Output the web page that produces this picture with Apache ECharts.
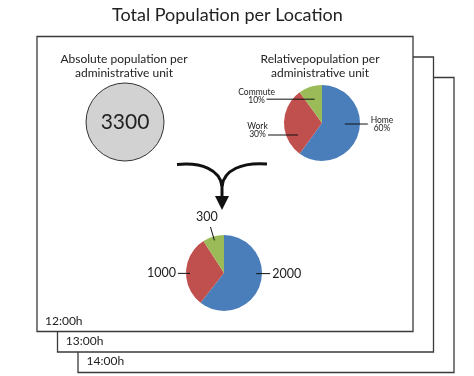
<!DOCTYPE html>
<html>
<head>
<meta charset="utf-8">
<title>Total Population per Location</title>
<script src="https://cdn.jsdelivr.net/npm/echarts@6/dist/echarts.min.js"></script>
<style>
  html, body { margin: 0; padding: 0; background: #fff; }
  #chart { width: 474px; height: 376px; }
</style>
</head>
<body>
<div id="chart"></div>
<script>
// data
const categories = ['Home', 'Work', 'Commute'];
const shareValues = [60, 30, 10];          // percent
const absoluteValues = [2000, 1000, 300];  // people
const totalPopulation = [3300];
const timeLabels = ['12:00h', '13:00h', '14:00h'];

const sliceColors = ['#4a7ebb', '#c0504d', '#9bbb59'];
const font = 'Lato, "Open Sans", sans-serif';

// 标注线长度 [length, length2] 和标签微调 [dx, dy, 线的dy]
const shareLines = [[0, 23], [0, 30], [0, 48]];
const shareTweak = [[9.2, -6.4, -6.4], [-5.5, 7.5, 12], [-5, -3.7, -1]];
const absLines = [[0, 14], [0, 12], [14, 0]];
const absTweak = [[11.5, -10.5, -10.5], [-11.5, 2, 2], [1.3, -10.3, 0]];

const chart = echarts.init(document.getElementById('chart'));

// 三个时间框，从后往前画
const boxes = [];
const times = [];
for (let i = timeLabels.length - 1; i >= 0; i--) {
  boxes.push({
    type: 'rect',
    shape: { x: 37 + i * 20.5, y: 36.5 + i * 20.5, width: 376, height: 295 },
    style: { fill: '#fff', stroke: '#3a3a3a', lineWidth: 1.3 }
  });
}
timeLabels.forEach((t, i) => {
  times.push({
    type: 'text',
    x: 45 + i * 20.8,
    y: 321 + i * 20.3,
    style: { text: t, font: '12px ' + font, fill: '#222', verticalAlign: 'middle' }
  });
});

function pieData (values) {
  return values.map((v, i) => ({
    name: categories[i],
    value: v,
    itemStyle: { color: sliceColors[i] }
  }));
}

// 透明内圈，只用来画标注线
function lineData (values, lines) {
  return values.map((v, i) => ({
    name: categories[i],
    value: v,
    labelLine: { length: lines[i][0], length2: lines[i][1] }
  }));
}

function tweakLayout (tweaks) {
  return p => {
    const t = tweaks[p.dataIndex];
    const out = { dx: t[0], dy: t[1], align: 'center' };
    if (p.labelLinePoints) {
      out.labelLinePoints = p.labelLinePoints.map(pt => [pt[0], pt[1] + t[2]]);
    }
    return out;
  };
}

const option = {
  animation: false,
  graphic: [
    ...boxes,
    ...times,
    {
      type: 'text',
      x: 112,
      y: 15,
      style: {
        text: 'Total Population per Location',
        font: '18px ' + font,
        fill: '#222',
        verticalAlign: 'middle'
      }
    },
    {
      type: 'text',
      x: 124,
      y: 66,
      style: {
        text: 'Absolute population per\nadministrative unit',
        font: '12px ' + font,
        lineHeight: 14,
        fill: '#222',
        align: 'center',
        verticalAlign: 'middle'
      }
    },
    {
      type: 'text',
      x: 320,
      y: 66,
      style: {
        text: 'Relativepopulation per\nadministrative unit',
        font: '12px ' + font,
        lineHeight: 14,
        fill: '#222',
        align: 'center',
        verticalAlign: 'middle'
      }
    },
    // 合并箭头
    {
      type: 'bezierCurve',
      shape: { x1: 177, y1: 164.5, cpx1: 202, cpy1: 162, cpx2: 220, cpy2: 170, x2: 222, y2: 186 },
      style: { stroke: '#111', lineWidth: 3, fill: null }
    },
    {
      type: 'bezierCurve',
      shape: { x1: 267, y1: 164, cpx1: 242, cpy1: 162, cpx2: 224, cpy2: 170, x2: 222, y2: 186 },
      style: { stroke: '#111', lineWidth: 3, fill: null }
    },
    {
      type: 'line',
      shape: { x1: 222, y1: 184, x2: 222, y2: 198 },
      style: { stroke: '#111', lineWidth: 3 }
    },
    {
      type: 'polygon',
      shape: { points: [[215, 196], [229, 196], [222, 210]] },
      style: { fill: '#111' }
    }
  ],
  series: [
    {
      // 总人口
      type: 'pie',
      z: 1,
      center: [125, 122],
      radius: 39,
      data: totalPopulation.map(v => ({ name: 'Total', value: v })),
      itemStyle: { color: '#d2d2d2', borderColor: '#333', borderWidth: 1 },
      label: {
        position: 'center',
        formatter: '{c}',
        fontFamily: font,
        fontSize: 21,
        color: '#222'
      },
      labelLine: { show: false },
      emphasis: { disabled: true }
    },
    {
      // 相对人口
      type: 'pie',
      z: 1,
      center: [322, 123],
      radius: 38,
      startAngle: 90,
      data: pieData(shareValues),
      label: { show: false },
      labelLine: { show: false },
      emphasis: { disabled: true }
    },
    {
      type: 'pie',
      z: 3,
      center: [322, 123],
      radius: 24,
      startAngle: 90,
      data: lineData(shareValues, shareLines),
      itemStyle: { color: 'rgba(0,0,0,0)' },
      label: {
        formatter: p => p.name + '\n' + p.value + '%',
        fontFamily: font,
        fontSize: 8.5,
        lineHeight: 8.5,
        color: '#222'
      },
      labelLine: { show: true, lineStyle: { color: '#111', width: 1 } },
      labelLayout: tweakLayout(shareTweak),
      emphasis: { disabled: true }
    },
    {
      // 绝对人口
      type: 'pie',
      z: 1,
      center: [224, 273],
      radius: 38,
      startAngle: 90,
      data: pieData(absoluteValues),
      label: { show: false },
      labelLine: { show: false },
      emphasis: { disabled: true }
    },
    {
      type: 'pie',
      z: 3,
      center: [224, 273],
      radius: 34,
      startAngle: 90,
      data: lineData(absoluteValues, absLines),
      itemStyle: { color: 'rgba(0,0,0,0)' },
      label: {
        formatter: '{c}',
        fontFamily: font,
        fontSize: 12.5,
        color: '#222'
      },
      labelLine: { show: true, lineStyle: { color: '#111', width: 1 } },
      labelLayout: tweakLayout(absTweak),
      emphasis: { disabled: true }
    }
  ]
};

chart.setOption(option);
window.addEventListener('resize', () => {
  chart.resize();
});
</script>
</body>
</html>
